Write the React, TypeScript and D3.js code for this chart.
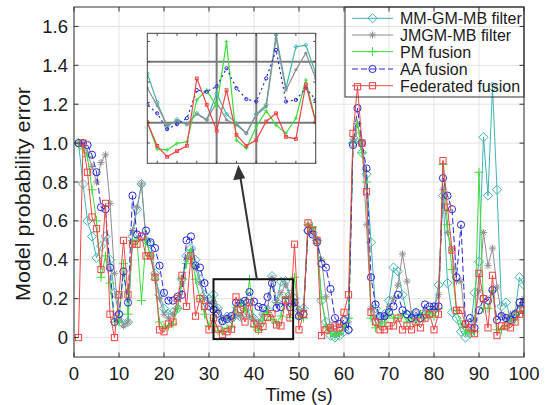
import React from "react";
import * as d3 from "d3";

// ---------- data ----------
const TIME = d3.range(1, 101);

const MM_GM_MB = [
  1.0, 0.79, 0.6, 0.52, 0.41, 0.47, 0.52, 0.4, 0.23, 0.12,
  0.07, 0.08, 0.52, 0.66, 0.79, 0.5, 0.48, 0.33, 0.22, 0.15,
  0.12, 0.13, 0.15, 0.3, 0.42, 0.46, 0.4, 0.3, 0.22, 0.2,
  0.221, 0.15, 0.09, 0.108, 0.096, 0.123, 0.107, 0.172, 0.121, 0.098,
  0.074, 0.121, 0.144, 0.316, 0.185, 0.287, 0.291, 0.221, 0.2, 0.14,
  0.15, 0.55, 0.54, 0.5, 0.19, 0.08, 0.01, 0.0, 0.01, 0.03,
  0.04, 1.0, 1.03, 0.95, 0.84, 0.49, 0.15, 0.1, 0.12, 0.19,
  0.36, 0.34, 0.22, 0.12, 0.1, 0.12, 0.1, 0.12, 0.12, 0.14,
  0.27, 0.73, 0.28, 0.13, 0.1, 0.03, 0.0, 0.02, 0.23, 0.39,
  1.03, 0.73, 1.29, 0.76, 0.16, 0.18, 0.1, 0.12, 0.31, 0.27,
];

const JMGM_MB = [
  1.0, 1.0, 0.95, 0.88, 0.8, 0.9, 0.94, 0.69, 0.33, 0.1,
  0.06, 0.08, 0.55, 0.67, 0.79, 0.5, 0.42, 0.32, 0.2, 0.12,
  0.1, 0.12, 0.15, 0.28, 0.4, 0.42, 0.36, 0.28, 0.2, 0.18,
  0.185, 0.142, 0.094, 0.104, 0.096, 0.121, 0.107, 0.15, 0.107, 0.094,
  0.074, 0.119, 0.139, 0.308, 0.18, 0.23, 0.271, 0.209, 0.18, 0.12,
  0.14, 0.58, 0.56, 0.5, 0.4, 0.21, 0.05, 0.03, 0.02, 0.05,
  0.08, 1.02, 1.1, 1.0, 0.58, 0.15, 0.1, 0.08, 0.1, 0.16,
  0.2, 0.27, 0.43, 0.29, 0.12, 0.1, 0.12, 0.14, 0.13, 0.15,
  0.22, 0.76, 0.54, 0.45, 0.29, 0.29, 0.06, 0.04, 0.09, 0.24,
  0.54, 0.37, 0.46, 0.26, 0.12, 0.1, 0.12, 0.13, 0.16, 0.2,
];

const PM_FUSION = [
  1.0, 0.97, 0.93, 0.76, 0.6, 0.31, 0.42, 0.28, 0.08, 0.08,
  0.38, 0.12, 0.5, 0.5, 0.19, 0.5, 0.42, 0.3, 0.08, 0.05,
  0.06, 0.07, 0.15, 0.3, 0.38, 0.45, 0.3, 0.2, 0.12, 0.06,
  0.101, 0.035, 0.033, 0.049, 0.053, 0.156, 0.18, 0.139, 0.299, 0.057,
  0.037, 0.09, 0.129, 0.094, 0.074, 0.111, 0.205, 0.103, 0.31, 0.1,
  0.1, 0.58, 0.57, 0.5, 0.2, 0.05, 0.02, 0.01, 0.02, 0.06,
  0.1, 1.0, 1.1, 0.95, 0.8, 0.1, 0.05, 0.06, 0.08, 0.12,
  0.1, 0.1, 0.12, 0.08, 0.1, 0.08, 0.12, 0.1, 0.13, 0.11,
  0.15, 0.89, 0.58, 0.35, 0.14, 0.07, 0.03, 0.02, 0.03, 0.85,
  0.15, 0.15, 0.24, 0.04, 0.04, 0.06, 0.09, 0.09, 0.13, 0.14,
];

const AA_FUSION = [
  1.0, 1.0, 0.99, 0.94, 0.85, 0.67, 0.66, 0.36, 0.08, 0.12,
  0.34, 0.18, 0.73, 0.53, 0.52, 0.55, 0.49, 0.46, 0.37, 0.23,
  0.19, 0.19, 0.21, 0.22, 0.5, 0.52, 0.37, 0.36, 0.28, 0.16,
  0.144, 0.123, 0.084, 0.096, 0.111, 0.18, 0.176, 0.189, 0.234, 0.185,
  0.158, 0.152, 0.209, 0.279, 0.152, 0.156, 0.185, 0.156, 0.18, 0.11,
  0.12, 0.55, 0.53, 0.49, 0.38, 0.36, 0.25, 0.1, 0.07, 0.09,
  0.04, 0.99, 1.18, 1.0, 0.87, 0.31, 0.17, 0.11, 0.11, 0.13,
  0.16, 0.22, 0.14, 0.12, 0.1, 0.13, 0.1, 0.17, 0.16, 0.16,
  0.16, 0.82, 0.73, 0.66, 0.31, 0.58, 0.07, 0.1, 0.05, 0.14,
  0.2, 0.19, 0.245, 0.09, 0.11, 0.1, 0.09, 0.12, 0.18, 0.18,
];

const FEDERATED = [
  0.0, 1.0, 0.85, 0.62, 0.56, 0.35, 0.69, 0.12, 0.0, 0.22,
  0.5, 0.22, 0.48, 0.48, 0.52, 0.42, 0.42, 0.31, 0.04, 0.03,
  0.07, 0.08, 0.2, 0.32, 0.16, 0.42, 0.11, 0.2, 0.16, 0.04,
  0.101, 0.043, 0.016, 0.03, 0.043, 0.209, 0.144, 0.08, 0.18, 0.07,
  0.043, 0.057, 0.103, 0.123, 0.065, 0.06, 0.194, 0.101, 0.48, 0.04,
  0.12, 0.59, 0.55, 0.5, 0.01, 0.04, 0.05, 0.06, 0.05, 0.13,
  0.22, 1.05, 1.29, 1.0, 0.75, 0.13, 0.08, 0.04, 0.04, 0.06,
  0.06, 0.1, 0.04, 0.06, 0.04, 0.08, 0.05, 0.1, 0.12, 0.04,
  0.12, 0.91, 0.67, 0.45, 0.14, 0.14, 0.07, 0.05, 0.02, 0.33,
  0.2, 0.05, 0.32, 0.01, 0.06, 0.06, 0.05, 0.08, 0.12, 0.14,
];

const SERIES_NAMES = ["MM-GM-MB filter", "JMGM-MB filter", "PM fusion", "AA fusion", "Federated fusion"];
const X_TICKS = [0, 10, 20, 30, 40, 50, 60, 70, 80, 90, 100];
const X_TICK_LABELS = ["0", "10", "20", "30", "40", "50", "60", "70", "80", "90", "100"];
const Y_TICKS = [0, 0.2, 0.4, 0.6, 0.8, 1.0, 1.2, 1.4, 1.6];
const Y_TICK_LABELS = ["0", "0.2", "0.4", "0.6", "0.8", "1.0", "1.2", "1.4", "1.6"];
const X_LABEL = "Time (s)";
const Y_LABEL = "Model probability error";

// zoom window (data coords) shown in the inset
const ZOOM_X = [31, 48];
const ZOOM_Y = [0, 0.32];
const ZOOM_RECT_X = [31, 48.7];
const ZOOM_RECT_Y = [-0.008, 0.3];
const INSET_X_TICKS = [32, 34, 36, 38, 40, 42, 44, 46, 48];
const INSET_Y_TICKS = [0.05, 0.1, 0.15, 0.2, 0.25, 0.3];
const INSET_X_GRID = [38, 42];
const INSET_Y_GRID = [0.1, 0.25];

// ---------- layout ----------
const W = 548;
const H = 405;
const PL = 74, PR = 524, PT = 7, PB = 357;
const FONT = "'Liberation Sans', Arial, sans-serif";

type MarkerType = "diamond" | "asterisk" | "plus" | "circle" | "square";

const STYLES: { color: string; marker: MarkerType; dash?: string; size: number }[] = [
  { color: "#3fb3b3", marker: "diamond", size: 4.6 },
  { color: "#8f8f8f", marker: "asterisk", size: 3.6 },
  { color: "#3cdc3c", marker: "plus", size: 4.5 },
  { color: "#2727dd", marker: "circle", dash: "6,3", size: 3.6 },
  { color: "#ef4444", marker: "square", size: 3.1 },
];

const SERIES = [MM_GM_MB, JMGM_MB, PM_FUSION, AA_FUSION, FEDERATED];

function Marker({ type, cx, cy, s, color, sw = 1 }: { type: MarkerType; cx: number; cy: number; s: number; color: string; sw?: number }) {
  switch (type) {
    case "diamond":
      return <path d={`M${cx},${cy - s}L${cx + s},${cy}L${cx},${cy + s}L${cx - s},${cy}Z`} fill="none" stroke={color} strokeWidth={sw} />;
    case "asterisk": {
      const d = s * 0.72;
      return (
        <path
          d={`M${cx - s},${cy}H${cx + s}M${cx},${cy - s}V${cy + s}M${cx - d},${cy - d}L${cx + d},${cy + d}M${cx - d},${cy + d}L${cx + d},${cy - d}`}
          fill="none" stroke={color} strokeWidth={sw}
        />
      );
    }
    case "plus":
      return <path d={`M${cx - s},${cy}H${cx + s}M${cx},${cy - s}V${cy + s}`} fill="none" stroke={color} strokeWidth={sw} />;
    case "circle":
      return <circle cx={cx} cy={cy} r={s} fill="none" stroke={color} strokeWidth={sw} />;
    case "square":
      return <rect x={cx - s} y={cy - s} width={2 * s} height={2 * s} fill="none" stroke={color} strokeWidth={sw} />;
  }
  return null;
}

export default function App() {
  const x = d3.scaleLinear().domain([0, 100]).range([PL, PR]);
  const y = d3.scaleLinear().domain([-0.1, 1.7]).range([PB, PT]);

  const IL = 147.3, IR = 315.7, IT = 33.3, IB = 163.3;
  const ix = d3.scaleLinear().domain(ZOOM_X).range([IL, IR]);
  const iy = d3.scaleLinear().domain(ZOOM_Y).range([IB, IT]);

  const mainLine = d3.line<number>().x((_, i) => x(TIME[i])).y((d) => y(d));
  const insetLine = d3.line<number>().x((_, i) => ix(TIME[i])).y((d) => iy(d));

  const gridColor = "#e3e3e3";
  const axisColor = "#333333";

  const legendRows = [18.3, 35, 51.7, 69, 85.7];

  return (
    <svg width={W} height={H} style={{ position: "absolute", left: 0, top: 0, background: "#fff" }} fontFamily={FONT}>
      <defs>
        <clipPath id="plotClip">
          <rect x={PL} y={PT} width={PR - PL} height={PB - PT} />
        </clipPath>
        <clipPath id="insetClip">
          <rect x={IL} y={IT} width={IR - IL} height={IB - IT} />
        </clipPath>
      </defs>

      {/* grid */}
      <g>
        {X_TICKS.map((t) => (
          <line key={"gx" + t} x1={x(t)} x2={x(t)} y1={PT} y2={PB} stroke={gridColor} strokeWidth={1} />
        ))}
        {Y_TICKS.map((t) => (
          <line key={"gy" + t} x1={PL} x2={PR} y1={y(t)} y2={y(t)} stroke={gridColor} strokeWidth={1} />
        ))}
      </g>

      {/* series */}
      <g clipPath="url(#plotClip)">
        {SERIES.map((vals, si) => {
          const st = STYLES[si];
          return (
            <g key={"s" + si}>
              <path d={mainLine(vals) || ""} fill="none" stroke={st.color} strokeWidth={1} strokeDasharray={st.dash} />
              {vals.map((v, i) => (
                <Marker key={i} type={st.marker} cx={x(TIME[i])} cy={y(v)} s={st.size} color={st.color} />
              ))}
            </g>
          );
        })}
      </g>

      {/* axes box and ticks */}
      <rect x={PL} y={PT} width={PR - PL} height={PB - PT} fill="none" stroke={axisColor} strokeWidth={1} />
      {X_TICKS.map((t) => (
        <g key={"tx" + t}>
          <line x1={x(t)} x2={x(t)} y1={PB} y2={PB - 4.5} stroke={axisColor} />
          <line x1={x(t)} x2={x(t)} y1={PT} y2={PT + 4.5} stroke={axisColor} />
        </g>
      ))}
      {Y_TICKS.map((t) => (
        <g key={"ty" + t}>
          <line x1={PL} x2={PL + 4.5} y1={y(t)} y2={y(t)} stroke={axisColor} />
          <line x1={PR} x2={PR - 4.5} y1={y(t)} y2={y(t)} stroke={axisColor} />
        </g>
      ))}
      {X_TICKS.map((t, i) => (
        <text key={"lx" + t} x={x(t)} y={380} textAnchor="middle" fontSize={18.5} fill="#1a1a1a">
          {X_TICK_LABELS[i]}
        </text>
      ))}
      {Y_TICKS.map((t, i) => (
        <text key={"ly" + t} x={68} y={y(t) + 6.5} textAnchor="end" fontSize={18.5} fill="#1a1a1a">
          {Y_TICK_LABELS[i]}
        </text>
      ))}
      <text x={(PL + PR) / 2} y={401} textAnchor="middle" fontSize={18.5} fill="#1a1a1a">
        {X_LABEL}
      </text>
      <text
        transform={`translate(29.5,194) rotate(-90)`}
        textAnchor="middle"
        fontSize={20}
        textLength={214}
        lengthAdjust="spacingAndGlyphs"
        fill="#1a1a1a"
      >
        {Y_LABEL}
      </text>

      {/* zoom rectangle */}
      <rect
        x={x(ZOOM_RECT_X[0])}
        y={y(ZOOM_RECT_Y[1])}
        width={x(ZOOM_RECT_X[1]) - x(ZOOM_RECT_X[0])}
        height={y(ZOOM_RECT_Y[0]) - y(ZOOM_RECT_Y[1])}
        fill="none"
        stroke="#111"
        strokeWidth={2}
      />
      {/* arrow */}
      <line x1={257} y1={280} x2={240.5} y2={178} stroke="#333" strokeWidth={2} />
      <path d="M238.3,165 L233.2,180.2 L245.2,178.3 Z" fill="#333" />

      {/* inset */}
      <g>
        {INSET_X_GRID.map((t) => (
          <line key={"igx" + t} x1={ix(t)} x2={ix(t)} y1={IT} y2={IB} stroke="#7a7a7a" strokeWidth={2} />
        ))}
        {INSET_Y_GRID.map((t) => (
          <line key={"igy" + t} x1={IL} x2={IR} y1={iy(t)} y2={iy(t)} stroke="#7a7a7a" strokeWidth={2} />
        ))}
        <g clipPath="url(#insetClip)">
          {SERIES.map((vals, si) => {
            const st = STYLES[si];
            const dash = si === 3 ? "2,3" : undefined;
            return (
              <g key={"is" + si}>
                <path d={insetLine(vals) || ""} fill="none" stroke={st.color} strokeWidth={1.2} strokeDasharray={dash} />
                {vals.map((v, i) =>
                  TIME[i] >= ZOOM_X[0] && TIME[i] <= ZOOM_X[1] ? (
                    <Marker key={i} type={st.marker} cx={ix(TIME[i])} cy={iy(v)} s={st.size * 0.45} color={st.color} />
                  ) : null
                )}
              </g>
            );
          })}
        </g>
        <rect x={IL} y={IT} width={IR - IL} height={IB - IT} fill="none" stroke="#444" strokeWidth={1} />
        {INSET_X_TICKS.map((t) => (
          <g key={"itx" + t}>
            <line x1={ix(t)} x2={ix(t)} y1={IB} y2={IB - 2.5} stroke="#444" />
            <line x1={ix(t)} x2={ix(t)} y1={IT} y2={IT + 2.5} stroke="#444" />
          </g>
        ))}
        {INSET_Y_TICKS.map((t) => (
          <g key={"ity" + t}>
            <line x1={IL} x2={IL + 2.5} y1={iy(t)} y2={iy(t)} stroke="#444" />
            <line x1={IR} x2={IR - 2.5} y1={iy(t)} y2={iy(t)} stroke="#444" />
          </g>
        ))}
      </g>

      {/* legend */}
      <g>
        <rect x={345} y={PT} width={PR - 345} height={97 - PT} fill="none" stroke={axisColor} strokeWidth={1} />
        {SERIES_NAMES.map((name, i) => {
          const st = STYLES[i];
          const ry = legendRows[i];
          return (
            <g key={"lg" + i}>
              <line x1={352} x2={393} y1={ry} y2={ry} stroke={st.color} strokeWidth={1} strokeDasharray={st.dash} />
              <Marker type={st.marker} cx={372.5} cy={ry} s={st.size} color={st.color} />
              <text x={400} y={ry + 5.8} fontSize={16} fill="#1a1a1a">
                {name}
              </text>
            </g>
          );
        })}
      </g>
    </svg>
  );
}
